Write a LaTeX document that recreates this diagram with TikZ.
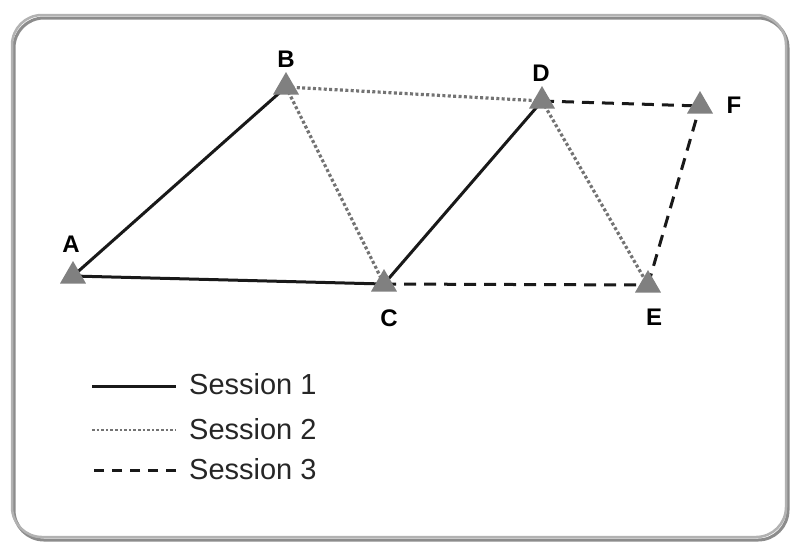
\documentclass[tikz,border=0pt]{standalone}
\usepackage{fontspec}
\setmainfont{Liberation Sans}
\usetikzlibrary{shapes.geometric,backgrounds}
\begin{document}
\begin{tikzpicture}[x=1pt,y=-1pt,
  station/.style={regular polygon,regular polygon sides=3,minimum size=30pt,inner sep=0pt,fill=black!50,draw=none},
  lbl/.style={font=\fontsize{24}{26}\selectfont\bfseries,text=black,inner sep=0pt},
  legtext/.style={font=\fontsize{29}{32}\selectfont,text=black!85,anchor=west,inner sep=0pt},
  sessA/.style={line width=3pt,black!90},
  sessB/.style={line width=3.2pt,black!55,dash pattern=on 3pt off 2.4pt},
  sessC/.style={line width=3pt,black!90,dash pattern=on 12pt off 8pt}]
\useasboundingbox (0,0) rectangle (791,542);
% frame with soft shadow
\draw[line width=3pt,black!45,rounded corners=30pt] (14,18) rectangle (788,540);
\draw[line width=2.5pt,black!30,rounded corners=30pt] (12,15) rectangle (786,537);
% stations
\node[station] (A) at (73,276) {};
\node[station] (B) at (286,87) {};
\node[station] (C) at (384,284) {};
\node[station] (D) at (542,101) {};
\node[station] (E) at (648,285) {};
\node[station] (F) at (700,106) {};
% labels
\node[lbl] (lA) at (71,244) {A};
\node[lbl] (lB) at (286,59) {B};
\node[lbl] (lC) at (389,318) {C};
\node[lbl] (lD) at (541,73) {D};
\node[lbl] (lE) at (654,317) {E};
\node[lbl] (lF) at (734,105) {F};
% connections
\begin{scope}[on background layer]
\draw[sessA] (A.center) -- (B.center);
\draw[sessA] (A.center) -- (C.center);
\draw[sessA] (C.center) -- (D.center);
\draw[sessB] (B.center) -- (D.center);
\draw[sessB] (B.center) -- (C.center);
\draw[sessB] (D.center) -- (E.center);
\draw[sessC] (C.center) -- (E.center);
\draw[sessC] (D.center) -- (F.center);
\draw[sessC] (E.center) -- (F.center);
\end{scope}
% legend
\coordinate (l1a) at (92,386); \coordinate (l1b) at (176,386);
\coordinate (l2a) at (92,430); \coordinate (l2b) at (176,430);
\coordinate (l3a) at (92,470); \coordinate (l3b) at (176,470);
\draw[sessA] (l1a) -- (l1b);
\draw[sessB,line width=2.6pt,dash pattern=on 2.6pt off 2pt] (l2a) -- (l2b);
\draw[sessC,dash pattern=on 10pt off 8pt] (l3b) -- (l3a);
\node[legtext] (t1) at (189,384) {Session 1};
\node[legtext] (t2) at (189,429) {Session 2};
\node[legtext] (t3) at (189,469) {Session 3};
\end{tikzpicture}
\end{document}
